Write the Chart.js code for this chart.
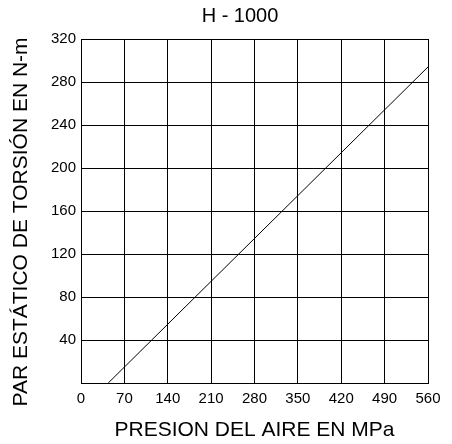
<!DOCTYPE html>
<html>
<head>
<meta charset="utf-8">
<script src="https://cdn.jsdelivr.net/npm/chart.js@4"></script>
<style>
    html, body { margin: 0; padding: 0; background: #fff; }
    #wrap { width: 452px; height: 444px; }
</style>
</head>
<body>
<div id="wrap"><canvas id="torqueChart" width="452" height="444"></canvas></div>
<script>
// H - 1000 : static torque vs air pressure
const chartTitle = 'H - 1000';
const xTitle = 'PRESION DEL AIRE EN MPa';
const yTitle = 'PAR ESTÁTICO DE TORSIÓN EN N-m';

const pressure = [44, 560];   // MPa
const torque = [0, 294];      // N-m

const xTicks = [0, 70, 140, 210, 280, 350, 420, 490, 560];
const yTicks = [0, 40, 80, 120, 160, 200, 240, 280, 320];

const FONT = '"Liberation Sans", Arial, sans-serif';

// main title and y title drawn by hand: the original has them a bit off the plot centre
const sideTitles = {
    id: 'sideTitles',
    afterDraw(chart) {
        const ctx = chart.ctx;
        ctx.save();
        ctx.fillStyle = '#000';
        ctx.textAlign = 'center';
        ctx.textBaseline = 'middle';
        ctx.font = '20px ' + FONT;
        ctx.fillText(chartTitle, 240, 16);
        ctx.translate(21, 222);
        ctx.rotate(-Math.PI / 2);
        ctx.font = '21px ' + FONT;
        ctx.fillText(yTitle, 0, 0);
        ctx.restore();
    }
};

const ctx = document.getElementById('torqueChart').getContext('2d');
new Chart(ctx, {
    type: 'line',
    data: {
        datasets: [{
            data: pressure.map((p, i) => ({ x: p, y: torque[i] })),
            borderColor: '#000',
            borderWidth: 1,
            pointRadius: 0,
            fill: false,
            tension: 0
        }]
    },
    options: {
        responsive: false,
        animation: false,
        layout: { padding: { top: 39, right: 24, bottom: 0, left: 5 } },
        plugins: {
            legend: { display: false },
            tooltip: { enabled: false }
        },
        scales: {
            x: {
                type: 'linear',
                min: xTicks[0],
                max: xTicks[xTicks.length - 1],
                afterBuildTicks: s => { s.ticks = xTicks.map(v => ({ value: v })); },
                afterFit: s => { s.height = 61; },
                grid: { color: '#000', lineWidth: 1, drawTicks: false },
                border: { color: '#000' },
                ticks: { color: '#000', padding: 7, font: { family: FONT, size: 15 }, maxRotation: 0 },
                title: { display: true, text: xTitle, color: '#000', font: { family: FONT, size: 21 }, padding: { top: 4, bottom: 1 } }
            },
            y: {
                min: yTicks[0],
                max: yTicks[yTicks.length - 1],
                afterBuildTicks: s => { s.ticks = yTicks.map(v => ({ value: v })); },
                afterFit: s => { s.width = 76; },
                grid: { color: '#000', lineWidth: 1, drawTicks: false },
                border: { color: '#000' },
                ticks: {
                    color: '#000',
                    padding: 5,
                    font: { family: FONT, size: 15 },
                    callback: v => (v === 0 ? '' : v)
                }
            }
        }
    },
    plugins: [sideTitles]
});
</script>
</body>
</html>
